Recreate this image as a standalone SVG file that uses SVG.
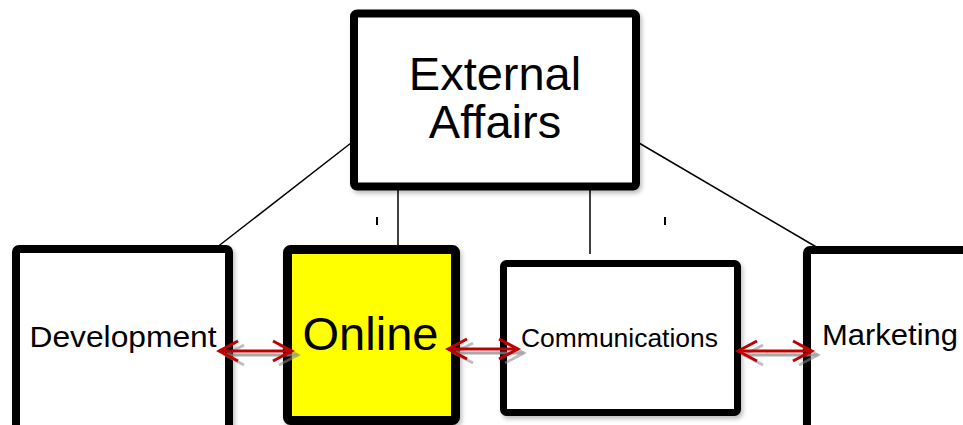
<svg xmlns="http://www.w3.org/2000/svg" width="963" height="425" viewBox="0 0 963 425">
  <defs>
    <style>
      .box { stroke: #000; stroke-width: 8; fill: #fff; }
      .lbl { font-family: "Liberation Sans", Arial, sans-serif; fill: #000; text-anchor: middle; }
      .conn { stroke: #000; stroke-width: 1.5; fill: none; }
      .red { stroke: #c00000; stroke-width: 3; fill: none; }
      .gray { stroke: #8a8a8a; stroke-width: 3; fill: none; opacity: 0.75; }
    </style>
    <marker id="hr" markerUnits="userSpaceOnUse" viewBox="-24 -13 27 26" refX="0" refY="0" markerWidth="27" markerHeight="26" orient="auto-start-reverse">
      <path d="M-19,-10 L0,0 L-19,10" stroke="#c00000" stroke-width="3" fill="none"/>
    </marker>
    <marker id="hg" markerUnits="userSpaceOnUse" viewBox="-24 -13 27 26" refX="0" refY="0" markerWidth="27" markerHeight="26" orient="auto-start-reverse">
      <path d="M-19,-10 L0,0 L-19,10" stroke="#8a8a8a" stroke-width="3" fill="none" opacity="0.75"/>
    </marker>
    <filter id="sh" x="-10%" y="-10%" width="130%" height="130%">
      <feDropShadow dx="2" dy="3" stdDeviation="2" flood-color="#000" flood-opacity="0.25"/>
    </filter>
  </defs>
  <rect width="963" height="425" fill="#fff"/>

  <g id="connectors">
    <line class="conn" x1="351" y1="143" x2="207" y2="255"/>
    <line class="conn" x1="639" y1="143" x2="830" y2="255"/>
    <line class="conn" x1="398" y1="188" x2="398" y2="253"/>
    <line class="conn" x1="590" y1="188" x2="590" y2="254"/>
    <line x1="377" y1="217" x2="377" y2="225" stroke="#000" stroke-width="2"/>
    <line x1="665" y1="217" x2="665" y2="225" stroke="#000" stroke-width="2"/>
  </g>

  <g id="external-affairs">
    <rect class="box" x="354" y="13.5" width="282" height="173" rx="3" filter="url(#sh)"/>
    <text class="lbl" x="495" y="90" font-size="47">External</text>
    <text class="lbl" x="495" y="138" font-size="47">Affairs</text>
  </g>

  <g id="development">
    <rect class="box" x="16" y="249" width="213" height="200" rx="3" filter="url(#sh)"/>
    <text class="lbl" x="123" y="347" font-size="29" textLength="187" lengthAdjust="spacingAndGlyphs">Development</text>
  </g>

  <g id="online">
    <rect class="box" x="287.5" y="249.5" width="168" height="171" rx="3" style="fill:#ffff00;stroke-width:9" filter="url(#sh)"/>
    <text class="lbl" x="370.5" y="350" font-size="47">Online</text>
  </g>

  <g id="communications">
    <rect class="box" x="503.5" y="263.5" width="234" height="149" rx="3" style="stroke-width:7" filter="url(#sh)"/>
    <text class="lbl" x="619.5" y="347" font-size="25" textLength="197" lengthAdjust="spacingAndGlyphs">Communications</text>
  </g>

  <g id="marketing">
    <rect class="box" x="807" y="250" width="180" height="200" rx="3" filter="url(#sh)"/>
    <text class="lbl" x="890" y="345" font-size="30" textLength="136" lengthAdjust="spacingAndGlyphs">Marketing</text>
  </g>

  <g id="arrows">
    <line class="gray" x1="225" y1="355" x2="298" y2="355" marker-start="url(#hg)" marker-end="url(#hg)"/>
    <line class="red" x1="219" y1="351" x2="292" y2="351" marker-start="url(#hr)" marker-end="url(#hr)"/>
    <line class="gray" x1="454" y1="353" x2="524" y2="353" marker-start="url(#hg)" marker-end="url(#hg)"/>
    <line class="red" x1="448" y1="349" x2="518" y2="349" marker-start="url(#hr)" marker-end="url(#hr)"/>
    <line class="gray" x1="744" y1="355" x2="818" y2="355" marker-start="url(#hg)" marker-end="url(#hg)"/>
    <line class="red" x1="738" y1="351" x2="812" y2="351" marker-start="url(#hr)" marker-end="url(#hr)"/>
  </g>
</svg>
